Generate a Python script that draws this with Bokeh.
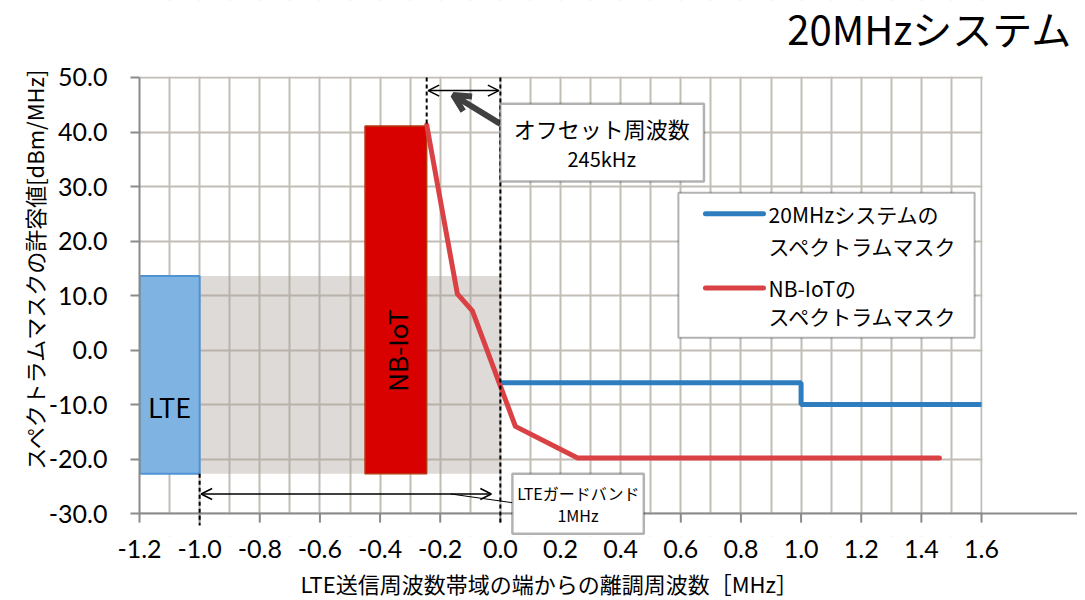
from bokeh.plotting import figure
from bokeh.models import (FixedTicker, NumeralTickFormatter, Label, Arrow, OpenHead,
                          BoxAnnotation, Span, ColumnDataSource, Title)
from bokeh.embed import file_html
from bokeh.resources import INLINE

# ---- data ----
sys20_x = [0.0, 1.0, 1.0, 1.6]
sys20_y = [-6.0, -6.0, -10.0, -10.0]
nbiot_x = [-0.245, -0.143, -0.093, 0.05, 0.257, 1.46]
nbiot_y = [41.3, 10.3, 7.2, -14.0, -19.8, -19.8]

lte_box = dict(left=[-1.2], right=[-1.0], bottom=[-22.7], top=[13.6])
guard_box = dict(left=[-1.0], right=[0.0], bottom=[-22.7], top=[13.6])
nb_box = dict(left=[-0.45], right=[-0.245], bottom=[-22.7], top=[41.1])

x_ticks = [-1.2, -1.0, -0.8, -0.6, -0.4, -0.2, 0.0, 0.2, 0.4, 0.6, 0.8, 1.0, 1.2, 1.4, 1.6]
x_grid = [round(-1.2 + 0.1 * i, 1) for i in range(29)]
y_ticks = [-30, -20, -10, 0, 10, 20, 30, 40, 50]

JP = "Noto Sans CJK JP"
NUM = "Lato"
AXC = "#8a8a8a"

# axis area is x in [-1.2, 1.6], y in [-30, 50]; the frame is extended for title/callouts
p = figure(frame_width=938, frame_height=536, x_range=(-1.2, 1.9192), y_range=(-34.2, 64.125),
           output_backend="svg", toolbar_location=None, title_location=None,
           min_border_left=139, min_border_right=0, min_border_top=0, min_border_bottom=0)
p.outline_line_color = None
p.background_fill_color = "white"

# y axis
ya = p.yaxis[0]
ya.bounds = (-30, 50)
ya.ticker = FixedTicker(ticks=y_ticks)
ya.formatter = NumeralTickFormatter(format="0.0")
ya.axis_line_color = AXC
ya.axis_line_width = 2
ya.major_tick_line_color = AXC
ya.major_tick_line_width = 2
ya.major_tick_out = 9
ya.major_tick_in = 0
ya.minor_tick_line_color = None
ya.major_label_standoff = 23
ya.axis_label = "スペクトラムマスクの許容値[dBm/MHz]"
ya.axis_label_standoff = -4
ya.axis_label_text_font = JP
ya.axis_label_text_font_size = "22px"
ya.axis_label_text_font_style = "normal"
ya.axis_label_text_color = "black"

# x axis (labels only; axis rule and ticks drawn at y=-30 below)
xa = p.xaxis[0]
xa.bounds = (-1.2, 1.6)
xa.ticker = FixedTicker(ticks=x_ticks)
xa.formatter = NumeralTickFormatter(format="0.0")
xa.axis_line_color = None
xa.major_tick_line_color = None
xa.major_tick_out = 0
xa.major_tick_in = 0
xa.minor_tick_line_color = None
xa.major_label_standoff = 3

for ax in (xa, ya):
    ax.major_label_text_font = NUM
    ax.major_label_text_font_size = "25px"
    ax.major_label_text_color = "black"

# x axis title, placed under the tick labels and centred on the axis span
xt = Title(text="LTE送信周波数帯域の端からの離調周波数［MHz］", align="left", offset=161,
           text_font=JP, text_font_size="22px", text_font_style="normal", text_color="black",
           standoff=8)
p.add_layout(xt, "below")

p.xgrid.ticker = FixedTicker(ticks=x_grid)
p.ygrid.ticker = FixedTicker(ticks=y_ticks)
for g in (p.xgrid[0], p.ygrid[0]):
    g.grid_line_color = "#c2beb6"
    g.grid_line_width = 2

# white areas outside the axis box (hide grid there)
for kw in (dict(top=-30), dict(bottom=50.18), dict(left=1.6034)):
    p.add_layout(BoxAnnotation(fill_color="white", fill_alpha=1, line_color=None, level="glyph", **kw))

# shaded guard band region (semi-transparent so grid shows through)
p.quad(source=ColumnDataSource(guard_box), left="left", right="right", bottom="bottom", top="top",
       fill_color="#a89f95", fill_alpha=0.38, line_color=None)
# LTE box
p.quad(source=ColumnDataSource(lte_box), left="left", right="right", bottom="bottom", top="top",
       fill_color="#7fb3e2", line_color="#4f93d2", line_width=2)
# NB-IoT box
p.quad(source=ColumnDataSource(nb_box), left="left", right="right", bottom="bottom", top="top",
       fill_color="#d90000", line_color="#b23a10", line_width=1.5)

# x axis rule and ticks at y = -30
p.add_layout(Span(location=-30, dimension="width", line_color=AXC, line_width=2))
tk = p.segment(x0=x_ticks, y0=[-30] * len(x_ticks), x1=x_ticks, y1=[-31.65] * len(x_ticks),
               line_color=AXC, line_width=2)
tk.level = "annotation"

# dashed marker lines
for (x0, y0, x1, y1) in [(-0.245, 50, -0.245, 41.1), (0.0, 50, 0.0, -32.2), (-1.0, -22.7, -1.0, -32.2)]:
    p.add_layout(Arrow(end=None, x_start=x0, y_start=y0, x_end=x1, y_end=y1,
                       line_color="black", line_width=2, line_dash="4 3"))

# mask lines
p.line(sys20_x, sys20_y, line_color="#2e7ebf", line_width=5)
p.line(nbiot_x, nbiot_y, line_color="#d94144", line_width=5, line_cap="round", line_join="round")

# double arrows
p.add_layout(Arrow(start=OpenHead(size=11, line_width=1.5), end=OpenHead(size=11, line_width=1.5),
                   x_start=-0.24, y_start=47.6, x_end=-0.005, y_end=47.6, line_width=1.5))
p.add_layout(Arrow(start=OpenHead(size=11, line_width=1.5), end=OpenHead(size=11, line_width=1.5),
                   x_start=-0.995, y_start=-26.4, x_end=-0.03, y_end=-26.4, line_width=1.5))
# callout pointers
p.add_layout(Arrow(end=OpenHead(size=17, line_width=6, line_color="#404040"),
                   x_start=0.0, y_start=41.5, x_end=-0.157, y_end=46.8,
                   line_color="#404040", line_width=6))
p.add_layout(Arrow(end=None, x_start=0.04, y_start=-28.0, x_end=-0.165, y_end=-26.4,
                   line_color="black", line_width=1))

# annotation boxes
p.add_layout(BoxAnnotation(left=0.0, right=0.677, top=45.2, bottom=30.9, fill_color="white",
                           fill_alpha=1, line_color="black", line_width=2.5, level="overlay"))
p.add_layout(BoxAnnotation(left=0.04, right=0.477, top=-22.7, bottom=-33.7, fill_color="white",
                           fill_alpha=1, line_color="black", line_width=2.5, level="overlay"))

def lab(x, y, text, size, align="center", **kw):
    p.add_layout(Label(x=x, y=y, text=text, text_font=JP, text_font_size=size,
                       text_color="black", text_align=align, text_baseline="middle",
                       level="overlay", **kw))

lab(0.337, 40.8, "オフセット周波数", "22px")
lab(0.337, 35.1, "245kHz", "20px")
lab(0.258, -26.3, "LTEガードバンド", "16px")
lab(0.258, -30.3, "1MHz", "16px")
lab(-1.1, -10.3, "LTE", "27px")
lab(-0.346, -0.1, "NB-IoT", "26px", angle=1.5708)

# title
lab(1.902, 59.15, "20MHzシステム", "40px", align="right")

# legend (drawn as a framed box with sample lines and labels)
p.add_layout(BoxAnnotation(left=0.592, right=1.577, top=28.85, bottom=2.25, fill_color="white",
                           fill_alpha=1, line_color="black", line_width=2, level="overlay"))
p.add_layout(Arrow(end=None, x_start=0.682, y_start=25.0, x_end=0.875, y_end=25.0,
                   line_color="#2e7ebf", line_width=5, line_cap="round", level="overlay"))
p.add_layout(Arrow(end=None, x_start=0.682, y_start=11.4, x_end=0.875, y_end=11.4,
                   line_color="#d94144", line_width=5, line_cap="round", level="overlay"))
lab(0.892, 25.0, "20MHzシステムの", "21px", align="left")
lab(0.892, 19.1, "スペクトラムマスク", "21px", align="left")
lab(0.892, 11.4, "NB-IoTの", "21px", align="left")
lab(0.892, 6.3, "スペクトラムマスク", "21px", align="left")

open("out.html", "w").write(file_html(p, INLINE))
